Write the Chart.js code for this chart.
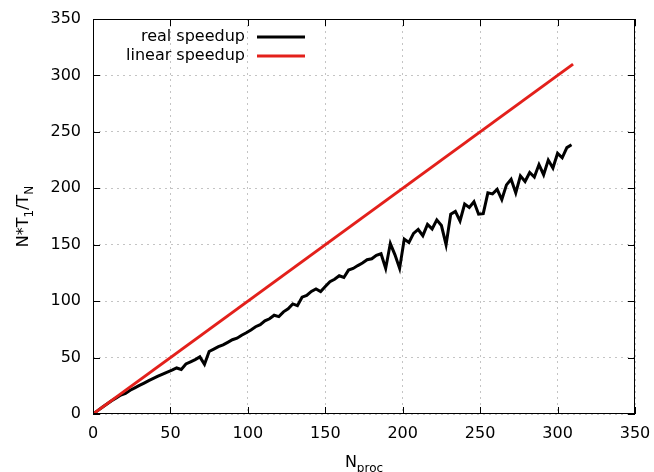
<!DOCTYPE html>
<html>
<head>
<meta charset="utf-8">
<script src="https://cdn.jsdelivr.net/npm/chart.js@4"></script>
<style>
html, body { margin: 0; padding: 0; background: #fff; }
#wrap { width: 654px; height: 472px; }
</style>
</head>
<body>
<div id="wrap"><canvas id="speedup-chart"></canvas></div>
<script>
const nProc = [0, 3, 6, 9, 12, 15, 18, 21, 24, 27, 30, 33, 36, 39, 42, 45, 48, 51, 54, 57,
    60, 63, 66, 69, 72, 75, 78, 81, 84, 87, 90, 93, 96, 99, 102, 105, 108, 111, 114, 117,
    120, 123, 126, 129, 132, 135, 138, 141, 144, 147, 150, 153, 156, 159, 162, 165, 168, 171, 174, 177,
    180, 183, 186, 189, 192, 195, 198, 201, 204, 207, 210, 213, 216, 219, 222, 225, 228, 231, 234, 237,
    240, 243, 246, 249, 252, 255, 258, 261, 264, 267, 270, 273, 276, 279, 282, 285, 288, 291, 294, 297,
    300, 303, 306, 309];
const realSpeedup = [0, 3, 6, 8.9, 11.7, 14.3, 16.8, 18.2, 21, 23.2, 25.3, 27.4, 29.6, 31.5, 33.5, 35.4, 37.2, 38.9, 40.8, 39.5,
    44.3, 46.2, 48.2, 50.6, 44, 55.4, 57.5, 59.6, 61.3, 63.5, 65.8, 67.2, 69.8, 72, 74.5, 77.3, 79.2, 82.5, 84.4, 87.5,
    86.3, 90.5, 93.2, 97.5, 96, 103.5, 105, 108.6, 110.8, 108.5, 113, 117.3, 119.4, 122.5, 121, 127.5, 129, 131.5, 133.8, 136.7,
    137.5, 140.6, 142, 129, 151, 141, 129, 155, 152, 160, 163.5, 158, 168, 164, 172, 167, 150, 177, 179.5, 171,
    186, 183, 188, 177, 177.5, 196, 195, 199, 190, 203, 208, 196, 211, 206, 214, 210, 221, 212, 225, 218,
    231, 227, 236, 238.5];
const linearN = [0, 310];
const linearSpeedup = [0, 310];
const axisTicks = [0, 50, 100, 150, 200, 250, 300, 350];

const FONT = 'DejaVu Sans';
const RED = '#e3201b';

// frame, inward ticks, legend and axis titles (gnuplot style)
const gnuplotDecor = {
    id: 'gnuplotDecor',
    afterDraw(chart) {
        const ctx = chart.ctx;
        const a = chart.chartArea;
        const xs = chart.scales.x, ys = chart.scales.y;
        ctx.save();
        ctx.strokeStyle = '#000';
        ctx.lineWidth = 1;
        ctx.strokeRect(a.left + 0.5, a.top + 0.5, a.right - a.left - 1, a.bottom - a.top - 1);
        const tl = 7;
        ctx.beginPath();
        axisTicks.forEach(v => {
            const px = Math.round(xs.getPixelForValue(v)) + 0.5;
            ctx.moveTo(px, a.bottom); ctx.lineTo(px, a.bottom - tl);
            ctx.moveTo(px, a.top); ctx.lineTo(px, a.top + tl);
            const py = Math.round(ys.getPixelForValue(v)) + 0.5;
            ctx.moveTo(a.left, py); ctx.lineTo(a.left + tl, py);
            ctx.moveTo(a.right, py); ctx.lineTo(a.right - tl, py);
        });
        ctx.stroke();

        // legend (text right-aligned, sample to the right)
        const entries = [chart.data.datasets[1], chart.data.datasets[0]];
        ctx.font = '16px "' + FONT + '"';
        ctx.textAlign = 'right';
        ctx.textBaseline = 'middle';
        entries.forEach((ds, i) => {
            const y = 37 + i * 19;
            ctx.fillStyle = '#000';
            ctx.fillText(ds.label, 245, y);
            ctx.strokeStyle = ds.borderColor;
            ctx.lineWidth = 3;
            ctx.beginPath();
            ctx.moveTo(257, y); ctx.lineTo(305, y);
            ctx.stroke();
        });

        // axis titles with subscripts
        function drawParts(parts, x, y) {
            ctx.textAlign = 'left';
            ctx.textBaseline = 'alphabetic';
            let w = 0;
            parts.forEach(p => {
                ctx.font = (p.sub ? 12 : 16) + 'px "' + FONT + '"';
                p.w = ctx.measureText(p.t).width;
                w += p.w;
            });
            let cx = x - w / 2;
            parts.forEach(p => {
                ctx.font = (p.sub ? 12 : 16) + 'px "' + FONT + '"';
                ctx.fillText(p.t, cx, y + (p.sub ? 5 : 0));
                cx += p.w;
            });
        }
        ctx.fillStyle = '#000';
        drawParts([{ t: 'N' }, { t: 'proc', sub: true }], (a.left + a.right) / 2, 467);
        ctx.save();
        ctx.translate(28, (a.top + a.bottom) / 2);
        ctx.rotate(-Math.PI / 2);
        drawParts([{ t: 'N*T' }, { t: '1', sub: true }, { t: '/T' }, { t: 'N', sub: true }], 0, 0);
        ctx.restore();
        ctx.restore();
    }
};

const ctx = document.getElementById('speedup-chart').getContext('2d');
new Chart(ctx, {
    type: 'line',
    data: {
        datasets: [{
            label: 'linear speedup',
            data: linearN.map((n, i) => ({ x: n, y: linearSpeedup[i] })),
            borderColor: RED,
            borderWidth: 3,
            pointRadius: 0,
            tension: 0,
            fill: false
        }, {
            label: 'real speedup',
            data: nProc.map((n, i) => ({ x: n, y: realSpeedup[i] })),
            borderColor: '#000',
            borderWidth: 3,
            pointRadius: 0,
            tension: 0,
            fill: false
        }]
    },
    options: {
        responsive: true,
        maintainAspectRatio: false,
        animation: false,
        devicePixelRatio: 1,
        layout: { padding: { top: 19, right: 19, left: 0, bottom: 0 } },
        plugins: {
            legend: { display: false },
            tooltip: { enabled: false }
        },
        scales: {
            x: {
                type: 'linear',
                min: 0,
                max: 350,
                afterBuildTicks: s => { s.ticks = axisTicks.map(v => ({ value: v })); },
                afterFit: s => { s.height = 58; s.paddingLeft = 0; s.paddingRight = 0; },
                ticks: { color: '#000', font: { family: FONT, size: 16 }, padding: 10, maxRotation: 0 },
                grid: { color: '#c4c4c4', lineWidth: 1, drawTicks: false },
                border: { display: false, dash: [2, 4] }
            },
            y: {
                type: 'linear',
                min: 0,
                max: 350,
                afterBuildTicks: s => { s.ticks = axisTicks.map(v => ({ value: v })); },
                afterFit: s => { s.width = 93; s.paddingTop = 0; s.paddingBottom = 0; },
                ticks: { color: '#000', font: { family: FONT, size: 16 }, padding: 12 },
                grid: { color: '#c4c4c4', lineWidth: 1, drawTicks: false },
                border: { display: false, dash: [2, 4] }
            }
        }
    },
    plugins: [gnuplotDecor]
});
</script>
</body>
</html>
